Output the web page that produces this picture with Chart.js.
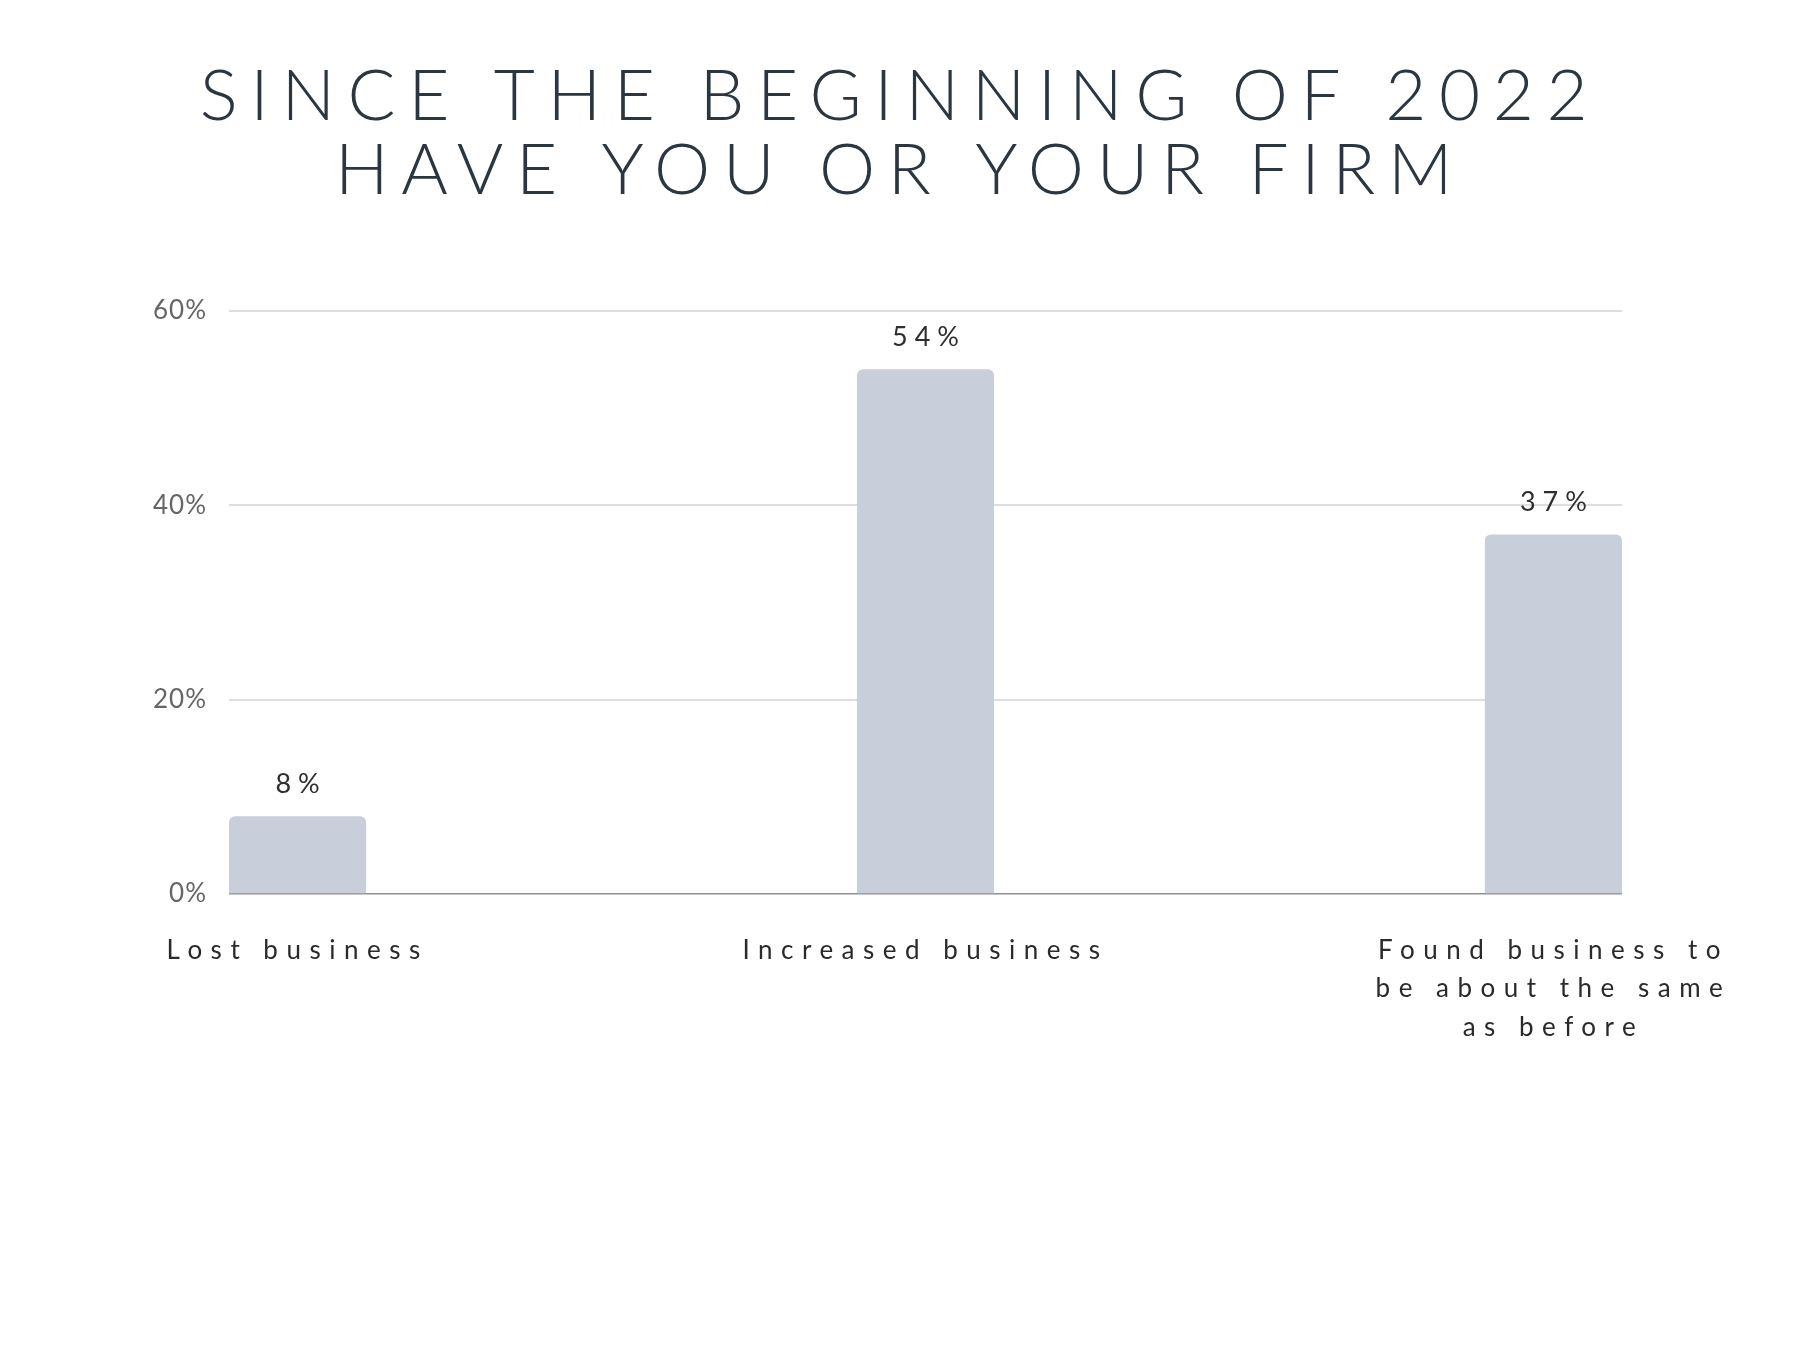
<!DOCTYPE html>
<html>
<head>
<meta charset="utf-8">
<script src="https://cdn.jsdelivr.net/npm/chart.js@4.4.0/dist/chart.umd.min.js"></script>
<style>
  html, body { margin: 0; padding: 0; background: #ffffff; }
  #wrap { width: 1800px; height: 1350px; position: relative; }
</style>
</head>
<body>
<div id="wrap"><canvas id="chart"></canvas></div>
<script>
// ---- data ----
const titleLines = ["SINCE THE BEGINNING OF 2022", "HAVE YOU OR YOUR FIRM"];
const categories = [
  ["Lost business"],
  ["Increased business"],
  ["Found business to", "be about the same", "as before"]
];
const values = [8, 54, 37];
const yTickValues = [0, 20, 40, 60];
const yTickLabels = ["0%", "20%", "40%", "60%"];

// ---- style ----
const FONT = "Lato, 'Noto Sans', sans-serif";
const HALF_BAR = 0.1092;          // half bar width in category units (bars flush with plot edges)
const TITLE_SPACING = 12.6;
const XLABEL_SPACING = 8.5;
const YLABEL_SPACING = 1;
const VALUE_SPACING = 7;

function withSpacing(obj, method, sp) {
  if (!obj || obj['__sp_' + method]) return;
  const orig = obj[method];
  obj['__sp_' + method] = true;
  obj[method] = function (...args) {
    const ctx = this.ctx;
    const prev = ctx.letterSpacing;
    ctx.letterSpacing = sp + 'px';
    try { return orig.apply(this, args); } finally { ctx.letterSpacing = prev; }
  };
}

const spacingPlugin = {
  id: 'spacing',
  beforeDraw(chart) {
    withSpacing(chart.titleBlock, 'draw', TITLE_SPACING);
    withSpacing(chart.scales.x, 'drawLabels', XLABEL_SPACING);
    withSpacing(chart.scales.y, 'drawLabels', YLABEL_SPACING);
  }
};

const valueLabelPlugin = {
  id: 'valueLabels',
  afterDatasetsDraw(chart) {
    const ctx = chart.ctx;
    const meta = chart.getDatasetMeta(0);
    ctx.save();
    ctx.font = "400 27px " + FONT;
    ctx.fillStyle = '#2f2f2f';
    ctx.textAlign = 'center';
    ctx.textBaseline = 'middle';
    ctx.letterSpacing = VALUE_SPACING + 'px';
    meta.data.forEach((bar, i) => {
      ctx.fillText(values[i] + '%', bar.x + VALUE_SPACING / 2, bar.y - 32);
    });
    ctx.restore();
  }
};

const points = values.map((v, i) => ({ x: i, y: v }));

new Chart(document.getElementById('chart'), {
  type: 'bar',
  data: {
    datasets: [{
      data: points,
      backgroundColor: '#c9cfda',
      borderWidth: 0,
      borderRadius: 6,
      categoryPercentage: 1,
      barPercentage: HALF_BAR * 2,
      xAxisID: 'x',
      yAxisID: 'y'
    }]
  },
  options: {
    responsive: true,
    maintainAspectRatio: false,
    animation: false,
    devicePixelRatio: 1,
    layout: { padding: 0 },
    plugins: {
      legend: { display: false },
      tooltip: { enabled: false },
      title: {
        display: true,
        text: titleLines,
        color: '#2b3640',
        font: { family: FONT, size: 71, weight: '300', lineHeight: 74 / 71 },
        padding: { top: 60, bottom: 103 }
      }
    },
    scales: {
      x: {
        type: 'linear',
        offset: false,
        min: -HALF_BAR,
        max: values.length - 1 + HALF_BAR,
        afterBuildTicks: (scale) => { scale.ticks = categories.map((c, i) => ({ value: i })); },
        afterFit: (scale) => { scale.height = 456; },
        grid: { display: false, drawTicks: false, offset: false },
        border: { display: false },
        ticks: {
          autoSkip: false,
          maxRotation: 0,
          minRotation: 0,
          padding: 37,
          color: '#2a2a2a',
          font: { family: FONT, size: 26, weight: '400', lineHeight: 38.5 / 26 },
          callback: (v, i) => categories[i]
        }
      },
      y: {
        type: 'linear',
        position: 'left',
        min: 0,
        max: 60,
        afterBuildTicks: (scale) => { scale.ticks = yTickValues.map(v => ({ value: v })); },
        afterFit: (scale) => { scale.width = 229; },
        grid: {
          drawTicks: false,
          color: (ctx) => (ctx.tick && ctx.tick.value === 0) ? '#8f8f8f' : '#dedede',
          lineWidth: (ctx) => (ctx.tick && ctx.tick.value === 0) ? 1.5 : 2
        },
        border: { display: false },
        ticks: {
          padding: 22,
          color: '#666666',
          font: { family: FONT, size: 26, weight: '400' },
          callback: (v, i) => yTickLabels[i]
        }
      },
      yRight: {
        type: 'linear',
        position: 'right',
        display: true,
        afterFit: (scale) => { scale.width = 178; },
        grid: { display: false, drawTicks: false },
        border: { display: false },
        ticks: { display: false }
      }
    }
  },
  plugins: [spacingPlugin, valueLabelPlugin]
});
</script>
</body>
</html>
